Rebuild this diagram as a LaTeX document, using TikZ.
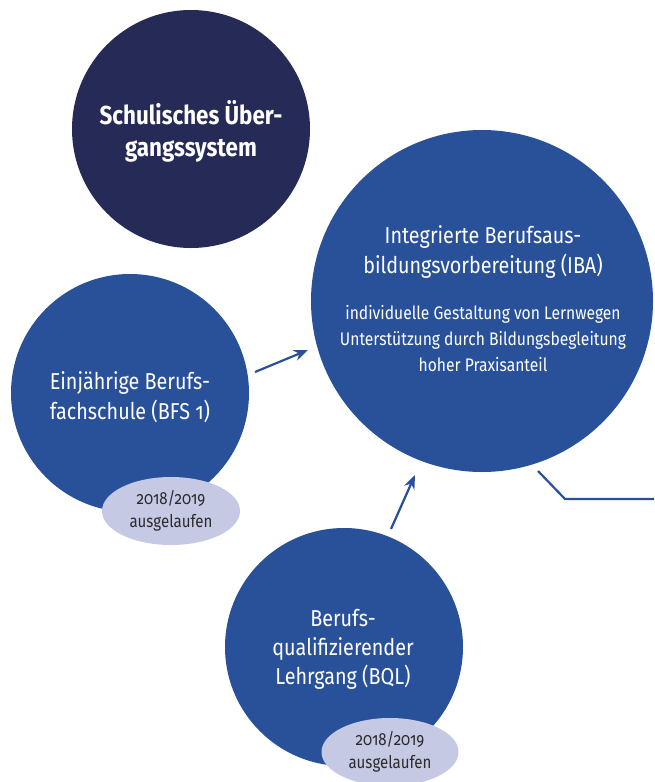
\documentclass[tikz,border=0pt]{standalone}
\usepackage{fontspec}
\setmainfont{Fira Sans}[Numbers=OldStyle,FakeStretch=0.86]
\usetikzlibrary{arrows.meta,shapes.geometric}
\definecolor{navy}{HTML}{262A56}
\definecolor{blu}{HTML}{285199}
\definecolor{lav}{HTML}{C6C9E3}
\definecolor{ink}{HTML}{2B2B2B}
\tikzset{
  circ/.style={circle,fill=blu,inner sep=0pt,text=white,align=center},
  wtext/.style={text=white,align=center,inner sep=0pt},
  tag/.style={ellipse,fill=lav,text=ink,align=center,inner sep=0pt,font=\fontsize{17.5}{23}\selectfont},
  conn/.style={draw=blu,line width=2.2pt},
  arr/.style={conn,-{Stealth[length=14pt,width=11pt]}}
}
\begin{document}
\begin{tikzpicture}[x=1pt,y=1pt]
\useasboundingbox (0,0) rectangle (654,-782);
% circles
\node[circ,fill=navy,minimum size=238pt] (sys) at (191,-129) {};
\node[wtext,font=\bfseries\fontsize{26}{32}\selectfont] (systxt) at (191,-131) {Schulisches Über-\\gangssystem};
\node[circ,minimum size=342pt] (iba) at (482,-301) {};
\node[wtext,font=\fontsize{23}{30}\selectfont] (ibat) at (483,-252) {Integrierte Berufsaus-\\bildungsvorbereitung (IBA)};
\node[wtext,font=\fontsize{18.2}{26}\selectfont] (ibal) at (483,-339) {individuelle Gestaltung von Lernwegen\\Unterstützung durch Bildungsbegleitung\\hoher Praxisanteil};
\node[circ,minimum size=238pt] (bfs) at (130,-393) {};
\node[wtext,font=\fontsize{23}{30}\selectfont] (bfst) at (130,-397) {Einjährige Berufs-\\fachschule (BFS 1)};
\node[tag,minimum width=138pt,minimum height=68pt] (bfstag) at (171,-511) {2018/2019\\ausgelaufen};
\node[circ,minimum size=238pt] (bql) at (344,-647) {};
\node[wtext,font=\fontsize{23}{29}\selectfont] (bqlt) at (343,-649) {Berufs-\\qualifizierender\\Lehrgang (BQL)};
\node[tag,minimum width=137pt,minimum height=68pt] (bqltag) at (390,-752) {2018/2019\\ausgelaufen};
% connectors
\coordinate (a1) at (255,-372);
\coordinate (a2) at (308,-350);
\draw[arr] (a1) -- (a2);
\coordinate (b1) at (391,-529);
\coordinate (b2) at (415,-475);
\draw[arr] (b1) -- (b2);
\coordinate (c1) at (538,-471);
\coordinate (c2) at (565,-499);
\coordinate (c3) at (654,-499);
\draw[conn] (c1) -- (c2) -- (c3);
\end{tikzpicture}
\end{document}
